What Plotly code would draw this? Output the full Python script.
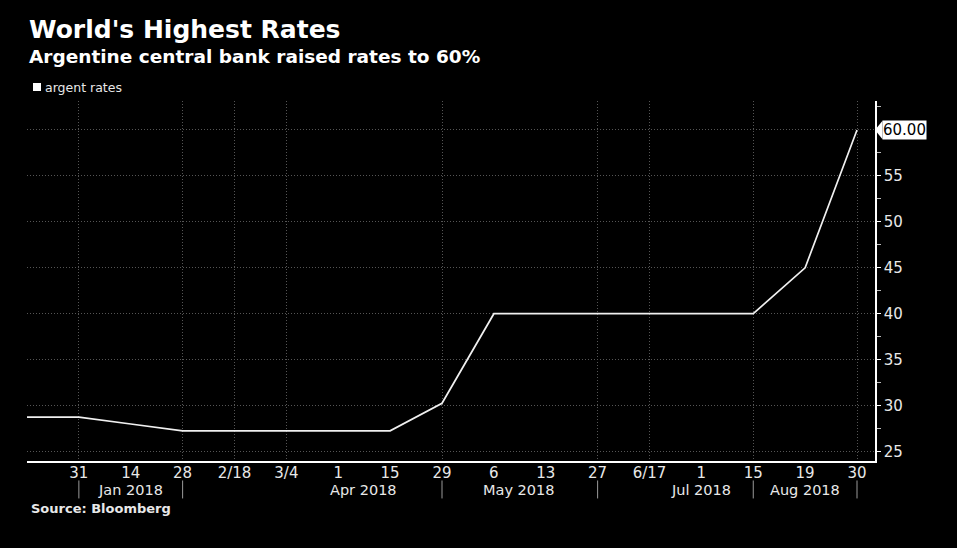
import plotly.graph_objects as go

# ---- data ----
dates = ["2017-12-17", "2017-12-31", "2018-01-14", "2018-01-28", "2018-02-18",
         "2018-03-04", "2018-04-01", "2018-04-15", "2018-04-29", "2018-05-06",
         "2018-05-13", "2018-05-27", "2018-06-17", "2018-07-01", "2018-07-15",
         "2018-08-19", "2018-08-30"]
rates = [28.75, 28.75, 28.00, 27.25, 27.25, 27.25, 27.25, 27.25, 30.25, 40.00,
         40.00, 40.00, 40.00, 40.00, 40.00, 45.00, 60.00]
tick_labels = ["", "31", "14", "28", "2/18", "3/4", "1", "15", "29", "6", "13",
               "27", "6/17", "1", "15", "19", "30"]
month_labels = ["Jan 2018", "Apr 2018", "May 2018", "Jul 2018", "Aug 2018"]
month_label_pos = [2, 6.48, 9.48, 13, 15]
month_dividers = [1, 3, 8, 11, 14, 16]
grid_idx = [1, 3, 4, 5, 8, 11, 12, 14, 16]
y_ticks = [25, 30, 35, 40, 45, 50, 55, 60]
y_tick_text = ["25", "30", "35", "40", "45", "50", "55", ""]

FONT = "DejaVu Sans"
TXT = "#e8e8e8"
GRID = "#555555"
DOT = "1px,2px"

xs = list(range(len(dates)))

fig = go.Figure()
fig.add_trace(go.Scatter(
    x=xs, y=rates, mode="lines", customdata=dates,
    line=dict(color="#f0f0f0", width=1.7), name="argent rates",
    hovertemplate="%{customdata}: %{y:.2f}<extra></extra>",
))

# plot-area geometry (pixels) used for paper conversions
L, R, T, B = 27, 875, 101, 461.5
W, H = R - L, B - T
def px(X):
    return (X - L) / W
def py(Y):
    return (B - Y) / H

annotations = [
    dict(text="<b>World's Highest Rates</b>", x=px(27), y=py(29.5), xref="paper", yref="paper",
         xanchor="left", yanchor="middle", showarrow=False,
         font=dict(family=FONT, size=25, color="white")),
    dict(text="<b>Argentine central bank raised rates to 60%</b>", x=px(27), y=py(56),
         xref="paper", yref="paper", xanchor="left", yanchor="middle", showarrow=False,
         font=dict(family=FONT, size=18.5, color="white")),
    dict(text="argent rates", x=px(43), y=py(87), xref="paper", yref="paper",
         xanchor="left", yanchor="middle", showarrow=False,
         font=dict(family=FONT, size=12.5, color=TXT)),
    dict(text="<b>Source: Bloomberg</b>", x=px(29), y=py(509), xref="paper", yref="paper",
         xanchor="left", yanchor="middle", showarrow=False,
         font=dict(family=FONT, size=13, color=TXT)),
    dict(text="60.00", x=px(882), y=rates[-1], xref="paper", yref="y",
         xanchor="left", yanchor="middle", showarrow=False, bgcolor="white",
         borderpad=0, font=dict(family=FONT, size=15, color="black")),
]
for lab, pos in zip(month_labels, month_label_pos):
    annotations.append(dict(text=lab, x=pos, y=py(491), xref="x", yref="paper",
                            xanchor="center", yanchor="middle", showarrow=False,
                            font=dict(family=FONT, size=14.5, color=TXT)))

shapes = [
    dict(type="rect", xref="paper", yref="paper", x0=px(33), x1=px(41),
         y0=py(91), y1=py(83), fillcolor="white", line=dict(width=0)),
    dict(type="path", xref="paper", yref="y",
         path=f"M {px(875)} {rates[-1]} L {px(882.5)} {rates[-1] + 1.0} "
              f"L {px(882.5)} {rates[-1] - 1.0} Z",
         fillcolor="white", line=dict(width=0)),
]
for d in month_dividers:
    shapes.append(dict(type="line", xref="x", yref="paper", x0=d, x1=d,
                       y0=py(481), y1=py(499), line=dict(color="#9a9a9a", width=1)))

fig.update_layout(
    width=957, height=548,
    paper_bgcolor="black", plot_bgcolor="black",
    margin=dict(l=L, r=957 - R, t=T, b=548 - B),
    showlegend=False,
    annotations=annotations, shapes=shapes,
    xaxis=dict(
        range=[0, 16.347], tickmode="array", tickvals=xs[1:], ticktext=tick_labels[1:],
        showgrid=False, zeroline=False, showline=True, linecolor="white", linewidth=1.5,
        ticks="", tickfont=dict(family=FONT, size=15, color=TXT), ticklabelstandoff=-3,
        minor=dict(tickmode="array", tickvals=grid_idx, showgrid=True, gridcolor=GRID,
                   griddash=DOT, gridwidth=1, ticks=""),
    ),
    yaxis=dict(
        range=[23.97, 63.15], side="right", tickmode="array", tickvals=y_ticks,
        ticktext=y_tick_text,
        showgrid=True, gridcolor=GRID, griddash=DOT, gridwidth=1, zeroline=False,
        showline=True, linecolor="white", linewidth=1.5,
        ticks="outside", ticklen=4, tickcolor="white", tickwidth=1,
        tickfont=dict(family=FONT, size=15, color=TXT),
        minor=dict(dtick=2.5, tick0=22.5, ticks="outside", ticklen=4, tickcolor="#bbbbbb",
                   showgrid=False),
    ),
)

fig.write_html("out.html", config={"displayModeBar": False},
               post_script="document.body.style.margin='0';")
